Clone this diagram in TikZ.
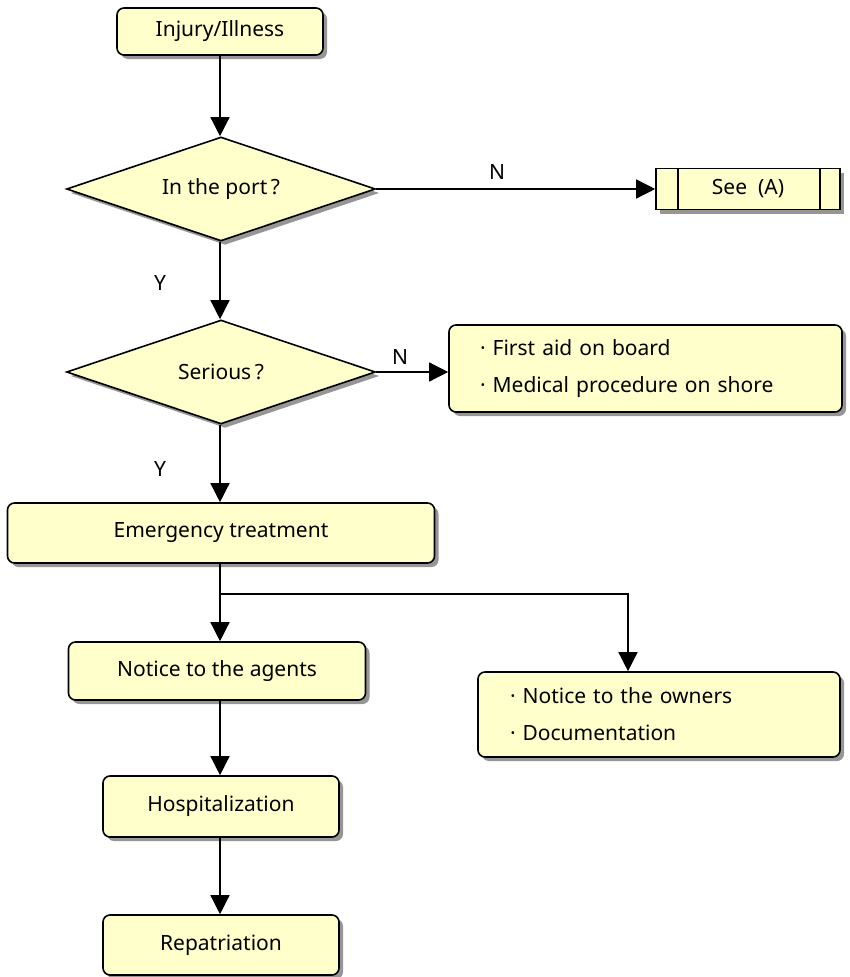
\documentclass[tikz,border=0pt]{standalone}
\usepackage{fontspec}
\setmainfont{Noto Sans}
\usetikzlibrary{shapes.geometric,arrows.meta,shadows}
\definecolor{paleyellow}{RGB}{255,255,204}
\definecolor{shadowgray}{RGB}{150,150,150}

\begin{document}
\begin{tikzpicture}[x=1pt,y=-1pt,
    every node/.style={font=\fontsize{21}{37}\selectfont},
    shade/.style={drop shadow={shadow xshift=4pt,shadow yshift=-4pt,fill=shadowgray,opacity=1}},
    stepbox/.style={draw, line width=1.6pt, rounded corners=7pt, fill=paleyellow, shade, inner sep=0pt},
    query/.style={draw, diamond, aspect=3, line width=1.6pt, fill=paleyellow, shade, inner sep=0pt},
    listbox/.style={stepbox, align=left, inner xsep=31pt},
    arr/.style={-{Triangle[length=19pt,width=19pt]}, line width=1.4pt}]
    \useasboundingbox (0,0) rectangle (849,977);

    \node[stepbox, minimum width=206, minimum height=47] (injury) at (220,31.5) {Injury/Illness};
    \node[query, minimum width=309, minimum height=104] (port) at (221,189) {In the port\,\textbf{?}};
    \node[draw, line width=1.6pt, fill=paleyellow, shade, minimum width=184, minimum height=41] (see) at (748,189) {See~ (A)};
    \draw[line width=1.6pt] ([xshift=23pt]see.north west) -- ([xshift=23pt]see.south west);
    \draw[line width=1.6pt] ([xshift=-21pt]see.north east) -- ([xshift=-21pt]see.south east);
    \node[query, minimum width=309, minimum height=104] (serious) at (221,372) {Serious\,\textbf{?}};
    \node[listbox, text width=331, minimum height=87] (aid) at (645.5,368.5)
        {· First aid on board\\· Medical procedure on shore};
    \node[stepbox, minimum width=427, minimum height=60] (emerg) at (221,533) {Emergency treatment};
    \coordinate (fork) at (220,594);
    \node[stepbox, minimum width=297, minimum height=58] (agents) at (217,671) {Notice to the agents};
    \node[listbox, inner xsep=32pt, text width=298, minimum height=85] (owners) at (659,714.5)
        {· Notice to the owners\\· Documentation};
    \node[stepbox, minimum width=236, minimum height=61] (hosp) at (221,806.5) {Hospitalization};
    \node[stepbox, minimum width=236, minimum height=60] (repat) at (221,945) {Repatriation};

    % labels
    \node (yport) at (160,283) {Y};
    \node (yserious) at (160,469) {Y};
    \node (nport) at (497,172) {N};
    \node (nserious) at (400,357) {N};

    \draw[arr] (injury.south -| 220,0) -- (port.north -| 220,0);
    \draw[arr] (port.east) -- (see.west);
    \draw[arr] (port.south -| 220,0) -- (serious.north -| 220,0);
    \draw[arr] (serious.east) -- (aid.west |- serious.east);
    \draw[arr] (serious.south -| 220,0) -- (emerg.north -| 220,0);
    \draw[arr] (emerg.south -| 220,0) -- (agents.north -| 220,0);
    \draw[arr] (fork) -| ([xshift=-31pt]owners.north);
    \draw[arr] (agents.south -| 220,0) -- (hosp.north -| 220,0);
    \draw[arr] (hosp.south -| 220,0) -- (repat.north -| 220,0);
\end{tikzpicture}
\end{document}
